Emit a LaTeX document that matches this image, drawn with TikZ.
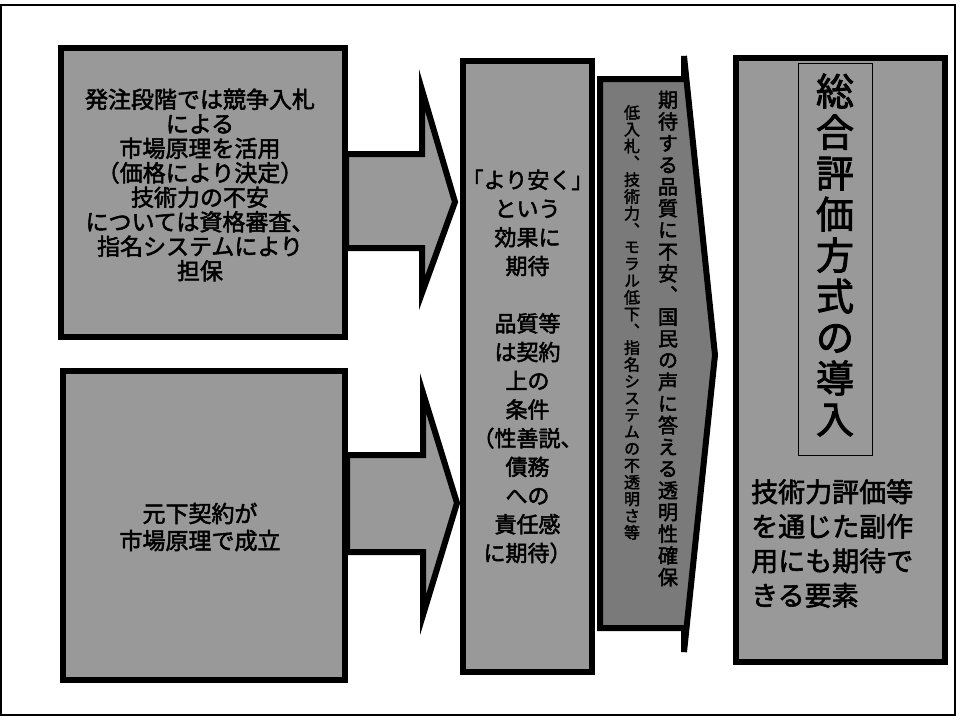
\documentclass[tikz,border=0pt]{standalone}
\usepackage{fontspec}
\newfontfamily\jp{Noto Sans CJK JP}[FakeBold=2.2]
\newfontfamily\jpv{Noto Sans CJK JP}[FakeBold=2.2,RawFeature=+vert]
\ExplSyntaxOn
\NewDocumentCommand\vstack{mm}{
  \vbox{\baselineskip=#1\relax\lineskiplimit=-100pt\relax\lineskip=0pt\relax
    \tl_map_inline:nn {#2} {\hbox to 1.1em{\hss ##1\hss}}}
}
\ExplSyntaxOff
\tikzset{
  box/.style={draw=black, line width=6pt, fill=black!40, inner sep=0pt},
  lbl/.style={inner sep=0pt, align=center, text=black},
  blockarrow/.style={draw=black, line width=6pt, fill=black!40, line join=miter},
  colarrow/.style={draw=black, line width=6pt, fill=black!52, line join=miter},
  frame/.style={draw=black, line width=1.5pt},
}
\begin{document}
\begin{tikzpicture}[x=1pt,y=-1pt]
\useasboundingbox (0,0) rectangle (964,721);
\fill[white] (0,0) rectangle (964,721);
\draw[frame] (1,5) rectangle (955,715);

% block arrows
\draw[blockarrow] (346,154) -- (422,154) -- (422,90) -- (455,202) -- (422,293) -- (422,248) -- (346,248) -- cycle;
\draw[blockarrow] (347,455) -- (423,455) -- (423,393) -- (457,503) -- (423,615) -- (423,552) -- (347,552) -- cycle;

% boxes
\node[box, minimum width=284pt, minimum height=289pt, anchor=north west] (b1) at (58,45) {};
\node[box, minimum width=282pt, minimum height=309pt, anchor=north west] (b2) at (60,368) {};
\node[box, minimum width=129pt, minimum height=611pt, anchor=north west] (b3) at (460,58) {};

\node[lbl, font=\jp\fontsize{23}{24.5}\selectfont] (t1) at (200,185)
  {発注段階では競争入札\\による\\市場原理を活用\\（価格により決定）\\技術力の不安\\については資格審査、\\指名システムにより\\担保};
\node[lbl, font=\jp\fontsize{23}{27}\selectfont] (t2) at (200,527)
  {元下契約が\\市場原理で成立};
\node[lbl, font=\jp\fontsize{22}{28.7}\selectfont] (t3) at (b3.center)
  {「より安く」\\という\\効果に\\期待\\[28.7pt]品質等\\は契約\\上の\\条件\\（性善説、\\債務\\への\\責任感\\に期待）};

% tall arrow column
\draw[colarrow] (600,79) -- (684,79) -- (684,56) -- (715,355) -- (684,652) -- (684,628) -- (600,628) -- cycle;
\node[lbl, font=\jpv\fontsize{20}{21.7}\selectfont] (c1) at (668,338.5)
  {\vstack{21.7pt}{期待する品質に不安、国民の声に答える透明性確保}};
\node[lbl, font=\jpv\fontsize{16}{16.8}\selectfont] (c2) at (632,322.5)
  {\vstack{16.8pt}{低入札、技術力、モラル低下、指名システムの不透明さ等}};

% right box
\node[box, minimum width=209pt, minimum height=604pt, anchor=north west] (b4) at (733,55) {};
\node[draw=black, line width=1.2pt, minimum width=74pt, minimum height=392pt, inner sep=0pt, anchor=north west] (tf) at (798,63) {};
\node[lbl, font=\jp\fontsize{38}{41}\selectfont] (title) at (835,255)
  {\vstack{41pt}{総合評価方式の導入}};
\node[lbl, anchor=north west, align=left, font=\jp\fontsize{27}{34.5}\selectfont] (t4) at (751,479)
  {技術力評価等\\を通じた副作\\用にも期待で\\きる要素};
\end{tikzpicture}
\end{document}
